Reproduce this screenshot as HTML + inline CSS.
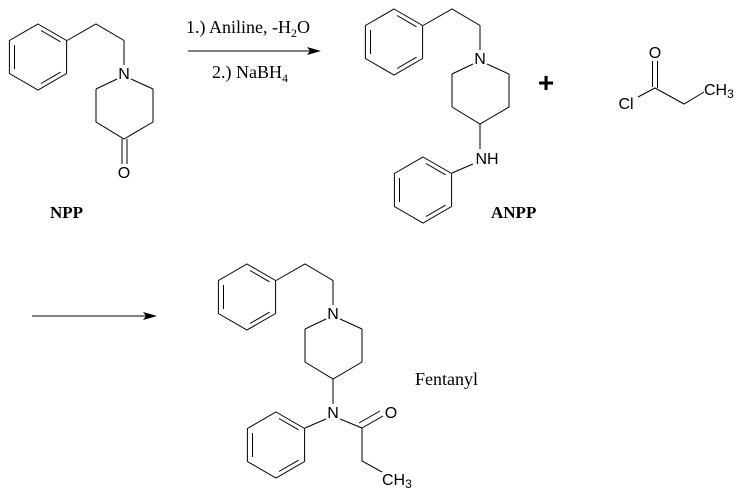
<!DOCTYPE html>
<html><head><meta charset="utf-8"><style>
html,body{margin:0;padding:0;background:#fff;width:740px;height:492px;overflow:hidden}
svg{display:block}
.s{font-family:"Liberation Sans",sans-serif;font-size:16px}
.r{font-family:"Liberation Serif",serif;font-size:18px}
</style></head><body>
<svg width="740" height="492" viewBox="0 0 740 492" xmlns="http://www.w3.org/2000/svg">
<defs>
<g id="bz" fill="none" stroke="#000" stroke-width="1">
<polygon points="0,-33 28.6,-16.5 28.6,16.5 0,33 -28.6,16.5 -28.6,-16.5"/>
<line x1="-23.5" y1="-12" x2="-23.5" y2="12"/>
<line x1="3" y1="-26.5" x2="22.5" y2="-15.2"/>
<line x1="22.5" y1="15.2" x2="3" y2="26.5"/>
</g>
</defs>
<g stroke="#000" stroke-width="1" fill="none">
<use href="#bz" x="38" y="57"/>
<use href="#bz" x="394" y="42"/>
<use href="#bz" x="247" y="297"/>
<use href="#bz" x="423" y="190"/>
<use href="#bz" x="276" y="445"/>
<polyline points="67,40.5 96,24 124,40.5 124,65"/>
<line x1="117" y1="79" x2="96" y2="89"/><line x1="131" y1="79" x2="153" y2="89"/>
<polyline points="96,89 96,122 124,139 153,122 153,89"/>
<line x1="122" y1="139" x2="122" y2="164"/><line x1="127" y1="139" x2="127" y2="164"/>
<polyline points="423,25.5 452,9 480,25.5 480,50"/>
<line x1="473" y1="64" x2="452" y2="74"/><line x1="487" y1="64" x2="509" y2="74"/>
<polyline points="452,74 452,107 480,124 509,107 509,74"/>
<line x1="480" y1="124" x2="480" y2="149"/>
<line x1="473" y1="164" x2="452" y2="173"/>
<polyline points="276,280.5 305,264 333,280.5 333,305"/>
<line x1="326" y1="319" x2="305" y2="329"/><line x1="340" y1="319" x2="362" y2="329"/>
<polyline points="305,329 305,362 333,379 362,362 362,329"/>
<line x1="333" y1="379" x2="333" y2="404"/>
<line x1="326" y1="419" x2="305" y2="428"/>
<line x1="340" y1="419" x2="362" y2="428"/>
<line x1="362" y1="428" x2="383" y2="416"/><line x1="359" y1="423" x2="380" y2="411"/>
<polyline points="362,428 362,461 382,472"/>
<line x1="652.5" y1="61" x2="652.5" y2="87"/><line x1="657.5" y1="61" x2="657.5" y2="88"/>
<polyline points="638,97 655,88 684,104 704,92"/>
<line x1="188" y1="51" x2="312" y2="51"/>
<line x1="32" y1="316" x2="148" y2="316"/>
</g>
<polygon points="321,51 307,47 310,51 307,55" fill="#000"/>
<polygon points="157,316 143,312 146,316 143,320" fill="#000"/>
<g class="s" fill="#000" text-anchor="middle">
<text x="124" y="79">N</text>
<text x="124" y="178">O</text>
<text x="480" y="64">N</text>
<text x="487" y="164">NH</text>
<text x="333" y="319">N</text>
<text x="333" y="418">N</text>
<text x="391" y="418">O</text>
<text x="655" y="58">O</text>
<text x="626" y="109">Cl</text>
</g>
<text class="s" x="382" y="485">CH<tspan font-size="12" dy="3">3</tspan></text>
<text class="s" x="704" y="95">CH<tspan font-size="12" dy="3">3</tspan></text>
<text class="r" x="186" y="33">1.) Aniline, -H<tspan font-size="12" dy="4">2</tspan><tspan dy="-4">O</tspan></text>
<text class="r" x="212" y="78">2.) NaBH<tspan font-size="12" dy="4">4</tspan></text>
<text x="50" y="218" font-family="Liberation Serif,serif" font-size="17" font-weight="bold">NPP</text>
<text x="491" y="218" font-family="Liberation Serif,serif" font-size="17" font-weight="bold">ANPP</text>
<text class="r" x="415" y="385">Fentanyl</text>
<text x="546" y="92" font-family="Liberation Sans,sans-serif" font-size="28" font-weight="bold" text-anchor="middle">+</text>
</svg>
</body></html>
